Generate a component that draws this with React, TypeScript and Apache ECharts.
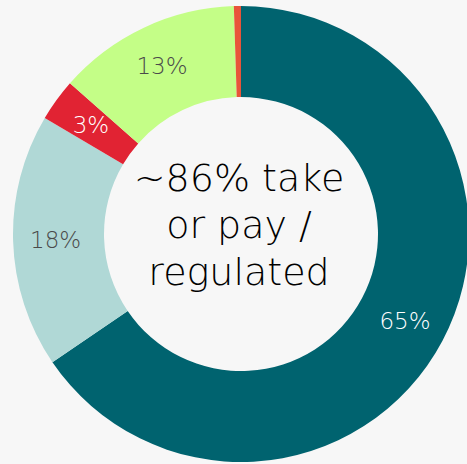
import React, { useEffect, useRef } from "react";
import * as echarts from "echarts";

const categories = ["Segment A", "Segment B", "Segment C", "Segment D", "Other"];
const values = [65.5, 18, 3, 13, 0.5];
const labelTexts = ["65%", "18%", "3%", "13%", ""];
const colors = ["#00636f", "#b0d8d6", "#e12333", "#c4fe87", "#e8543a"];
const labelColors = ["#ffffff", "#4a4a4a", "#ffffff", "#4a4a4a", "#ffffff"];
const centerText = "~86% take\nor pay /\nregulated";

export default function App() {
  const ref = useRef<HTMLDivElement>(null);
  useEffect(() => {
    if (!ref.current) return;
    const chart = echarts.init(ref.current, undefined, { renderer: "svg" });
    chart.setOption({
      animation: false,
      backgroundColor: "#f7f7f7",
      graphic: [
        {
          type: "text",
          x: 239,
          y: 225,
          style: {
            text: centerText,
            fontFamily: "DejaVu Sans",
            fontWeight: 200,
            fontSize: 38,
            lineHeight: 47,
            fill: "#000000",
            textAlign: "center",
            textVerticalAlign: "middle",
          },
        },
      ],
      series: [
        {
          type: "pie",
          center: [241, 234],
          radius: [137, 228],
          startAngle: 90,
          clockwise: true,
          avoidLabelOverlap: false,
          label: {
            show: true,
            position: "inside",
            fontFamily: "DejaVu Sans",
            fontWeight: 200,
            fontSize: 23,
          },
          labelLine: { show: false },
          emphasis: { disabled: true },
          data: categories.map((c, i) => ({
            name: c,
            value: values[i],
            itemStyle: { color: colors[i] },
            label: {
              formatter: labelTexts[i],
              color: labelColors[i],
              show: labelTexts[i] !== "",
            },
          })),
        },
      ],
    });
    return () => chart.dispose();
  }, []);
  return (
    <div
      ref={ref}
      style={{ position: "fixed", left: 0, top: 0, width: 467, height: 464 }}
    />
  );
}
